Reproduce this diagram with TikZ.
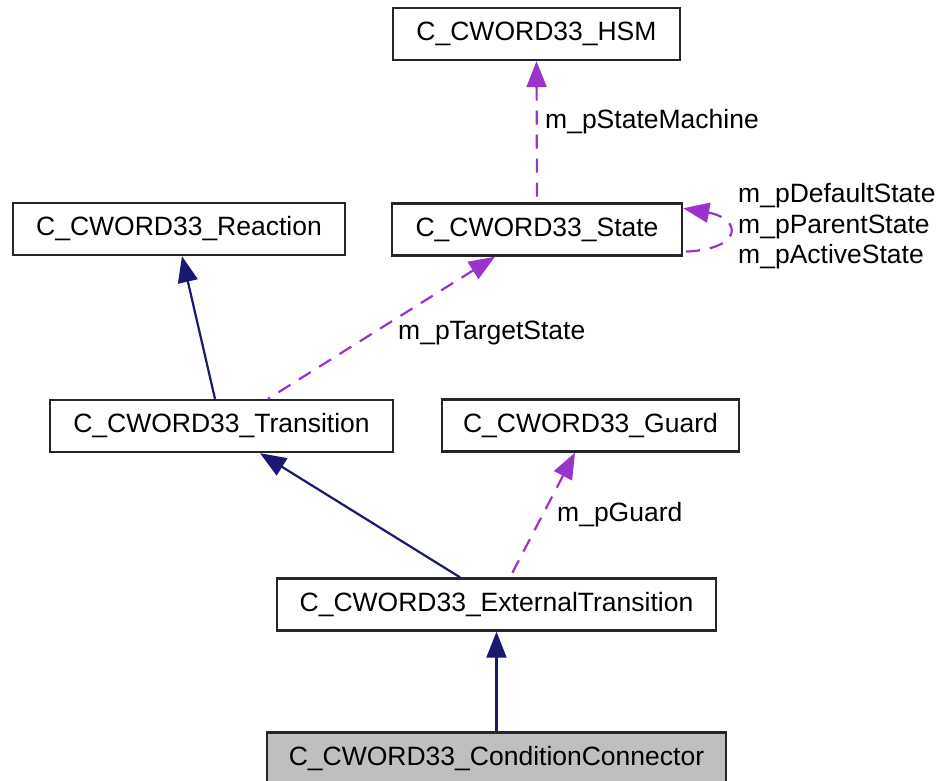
\documentclass[tikz,border=0pt]{standalone}
\usepackage{fontspec}
\setmainfont{Liberation Sans}
\usetikzlibrary{arrows.meta}

\definecolor{inherit}{HTML}{191970}
\definecolor{member}{HTML}{9A32CD}
\definecolor{current}{HTML}{BFBFBF}

\tikzset{>={Triangle[length=26pt,width=20pt]}}
\tikzset{
    classbox/.style={draw=black!85, line width=2.4pt, fill=white, inner sep=0pt,
        minimum height=52pt, font=\fontsize{26.5}{30}\selectfont},
    derive/.style={<-, draw=inherit, line width=2.2pt},
    assoc/.style={<-, draw=member, line width=2.2pt, dash pattern=on 14pt off 10pt},
    role/.style={font=\fontsize{26.5}{30.5}\selectfont, anchor=west, inner sep=0pt, align=left}
}

\begin{document}
\begin{tikzpicture}[x=1pt, y=-1pt]

    \useasboundingbox (0,0) rectangle (940,780);

    % classes
    \node[classbox, minimum width=287pt] (hsm) at (536.5,34) {C\_CWORD33\_HSM};
    \node[classbox, minimum width=332pt] (reaction) at (179,229) {C\_CWORD33\_Reaction};
    \node[classbox, minimum width=290pt] (state) at (537,229.5) {C\_CWORD33\_State};
    \node[classbox, minimum width=343pt] (transition) at (221.5,426) {C\_CWORD33\_Transition};
    \node[classbox, minimum width=297pt] (guard) at (590.5,425.5) {C\_CWORD33\_Guard};
    \node[classbox, minimum width=439pt] (external) at (496.5,604.5) {C\_CWORD33\_ExternalTransition};
    \node[classbox, minimum width=459pt, fill=current] (connector) at (496.5,758.5) {C\_CWORD33\_ConditionConnector};

    % inheritance
    \draw[derive] ([xshift=3pt]reaction.south) -- ([xshift=-6.5pt]transition.north);
    \draw[derive] ([xshift=38.5pt]transition.south) -- ([xshift=-36.5pt]external.north);
    \draw[derive] (external.south) -- (connector.north);

    % members
    \draw[assoc] (hsm.south) -- (state.north);
    \draw[assoc] ([xshift=-42pt]state.south) -- ([xshift=46.5pt]transition.north);
    \draw[assoc] ([xshift=-15.5pt]guard.south) -- ([xshift=13.5pt]external.north);
    \draw[assoc] ([yshift=-6pt]state.north east) .. controls +(58,10) and +(62,-2) .. ([yshift=5pt]state.south east);

    % roles
    \node[role] (rolemachine) at (545,122) {m\_pStateMachine};
    \node[role] (roletarget) at (398,333) {m\_pTargetState};
    \node[role] (roleguard) at (557,515) {m\_pGuard};
    \node[role] (rolestates) at (738,226.5) {m\_pDefaultState\\m\_pParentState\\m\_pActiveState};

\end{tikzpicture}
\end{document}
